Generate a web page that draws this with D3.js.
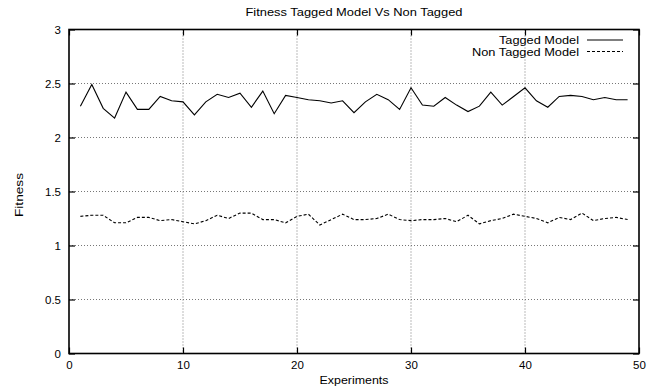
<!DOCTYPE html>
<html>
<head>
<meta charset="utf-8">
<script src="https://cdn.jsdelivr.net/npm/d3@7"></script>
<style>
body { margin: 0; background: #fff; }
text { font-family: "Liberation Sans", Arial, sans-serif; fill: #000; }
</style>
</head>
<body>
<div id="chart"></div>
<script>
var experiments = d3.range(1, 50);
var tagged = [2.29, 2.49, 2.27, 2.18, 2.42, 2.26, 2.26, 2.38, 2.34, 2.33,
              2.21, 2.33, 2.40, 2.37, 2.41, 2.28, 2.43, 2.22, 2.39, 2.37,
              2.35, 2.34, 2.32, 2.34, 2.23, 2.33, 2.40, 2.35, 2.26, 2.46,
              2.30, 2.29, 2.37, 2.30, 2.24, 2.29, 2.42, 2.30, 2.38, 2.46,
              2.34, 2.28, 2.38, 2.39, 2.38, 2.35, 2.37, 2.35, 2.35];
var nonTagged = [1.27, 1.28, 1.28, 1.21, 1.21, 1.26, 1.26, 1.23, 1.24, 1.22,
                 1.20, 1.23, 1.28, 1.25, 1.30, 1.30, 1.24, 1.24, 1.21, 1.27,
                 1.29, 1.19, 1.24, 1.29, 1.24, 1.24, 1.25, 1.29, 1.24, 1.23,
                 1.24, 1.24, 1.25, 1.22, 1.28, 1.20, 1.23, 1.25, 1.29, 1.27,
                 1.25, 1.21, 1.26, 1.24, 1.30, 1.23, 1.25, 1.26, 1.24];
var xTicks = [0, 10, 20, 30, 40, 50];
var yTicks = [0, 0.5, 1, 1.5, 2, 2.5, 3];
var seriesNames = ["Tagged Model", "Non Tagged Model"];

var svgwidth = 658, svgheight = 390;
var plotLeft = 69, plotRight = 639, plotTop = 29.5, plotBottom = 353.5;

var svg = d3.select("#chart").append("svg")
    .attr("width", svgwidth)
    .attr("height", svgheight);

var xScale = d3.scaleLinear().domain([0, 50]).range([plotLeft, plotRight]);
var yScale = d3.scaleLinear().domain([0, 3]).range([plotBottom, plotTop]);

// grid
svg.append("g").selectAll("line").data(xTicks.slice(1, -1)).enter().append("line")
    .attr("x1", function(d){ return xScale(d); })
    .attr("x2", function(d){ return xScale(d); })
    .attr("y1", plotTop).attr("y2", plotBottom)
    .attr("stroke", "#777").attr("stroke-width", 1)
    .attr("stroke-dasharray", "1,2");
svg.append("g").selectAll("line").data(yTicks.slice(1, -1)).enter().append("line")
    .attr("y1", function(d){ return yScale(d); })
    .attr("y2", function(d){ return yScale(d); })
    .attr("x1", plotLeft).attr("x2", plotRight)
    .attr("stroke", "#777").attr("stroke-width", 1)
    .attr("stroke-dasharray", "1,2");

// axes, ticks inward on every side
const xAxis = d3.axisBottom(xScale).tickValues(xTicks).tickSizeInner(-6).tickSizeOuter(0).tickPadding(7.5);
const yAxis = d3.axisLeft(yScale).tickValues(yTicks).tickSizeInner(-6).tickSizeOuter(0).tickPadding(8)
    .tickFormat(function(d){ return d; });
const xTop = d3.axisTop(xScale).tickValues(xTicks).tickSizeInner(-6).tickSizeOuter(0).tickFormat("");
const yRight = d3.axisRight(yScale).tickValues(yTicks).tickSizeInner(-6).tickSizeOuter(0).tickFormat("");

svg.append("g").attr("transform", "translate(0," + plotBottom + ")").call(xAxis);
svg.append("g").attr("transform", "translate(" + plotLeft + ",0)").call(yAxis);
svg.append("g").attr("transform", "translate(0," + plotTop + ")").call(xTop);
svg.append("g").attr("transform", "translate(" + plotRight + ",0)").call(yRight);
svg.selectAll(".domain").remove();
svg.selectAll(".tick line").attr("stroke", "#000").attr("stroke-width", 1.2);
svg.selectAll(".tick text").style("font-size", "11.5px").style("font-family", "Liberation Sans, Arial, sans-serif");

svg.append("rect")
    .attr("x", plotLeft).attr("y", plotTop)
    .attr("width", plotRight - plotLeft).attr("height", plotBottom - plotTop)
    .attr("fill", "none").attr("stroke", "#000").attr("stroke-width", 1.6);

var line = d3.line()
    .x(function(d, i){ return xScale(experiments[i]); })
    .y(function(d){ return yScale(d); });

svg.append("path").datum(tagged)
    .attr("d", line)
    .attr("fill", "none").attr("stroke", "#000").attr("stroke-width", 1.1);
svg.append("path").datum(nonTagged)
    .attr("d", line)
    .attr("fill", "none").attr("stroke", "#000").attr("stroke-width", 1.1)
    .attr("stroke-dasharray", "3,2");

// legend
var dashes = [null, "3,2"];
var legendWidths = [80, 107];
seriesNames.forEach(function(name, i){
    var ly = 40 + i * 11.5;
    svg.append("text")
        .attr("x", 579).attr("y", ly + 4)
        .attr("text-anchor", "end")
        .attr("textLength", legendWidths[i]).attr("lengthAdjust", "spacingAndGlyphs")
        .style("font-size", "11px")
        .text(name);
    svg.append("line")
        .attr("x1", 587).attr("x2", 623)
        .attr("y1", ly).attr("y2", ly)
        .attr("stroke", "#000").attr("stroke-width", 1.1)
        .attr("stroke-dasharray", dashes[i]);
});

// titles
svg.append("text")
    .attr("x", 354).attr("y", 16)
    .attr("text-anchor", "middle")
    .attr("textLength", 217).attr("lengthAdjust", "spacingAndGlyphs")
    .style("font-size", "11px")
    .text("Fitness Tagged Model Vs Non Tagged");
svg.append("text")
    .attr("x", 354).attr("y", 384)
    .attr("text-anchor", "middle")
    .attr("textLength", 69).attr("lengthAdjust", "spacingAndGlyphs")
    .style("font-size", "11px")
    .text("Experiments");
svg.append("text")
    .attr("transform", "translate(22.5,195) rotate(-90)")
    .attr("text-anchor", "middle")
    .attr("textLength", 44).attr("lengthAdjust", "spacingAndGlyphs")
    .style("font-size", "11px")
    .text("Fitness");
</script>
</body>
</html>
